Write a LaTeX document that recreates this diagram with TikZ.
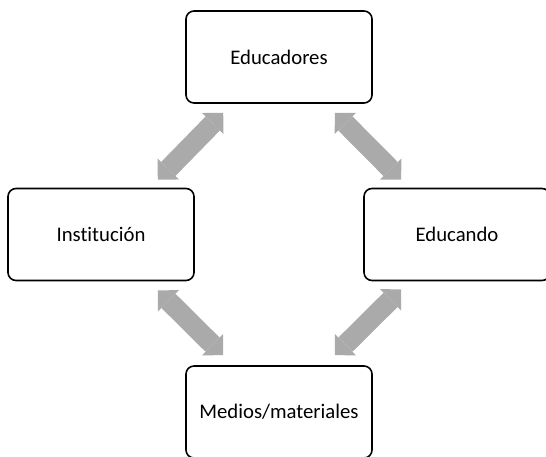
\documentclass[tikz,border=0pt]{standalone}
\usepackage{fontspec}
\setmainfont{Carlito}[Ligatures=NoCommon]
\usetikzlibrary{arrows.meta}
\definecolor{arrowgray}{RGB}{170,170,170}

\begin{document}
\begin{tikzpicture}[thick,minimum width=3.72cm,minimum height=1.84cm,box node/.style={rectangle,draw=black,line width=0.9pt,rounded corners=0.16cm,font=\fontsize{11.8}{14}\selectfont}]
\tikzstyle{both arrow} = [draw,line width=0.4cm,arrowgray,{Triangle[width=0.6cm,length=0.3cm,line width=0pt]}-{Triangle[width=0.6cm,length=0.3cm,line width=0pt]}]

\useasboundingbox (0,0) rectangle (10.92,9.12);

\node[box node] (educadores) at (5.58,7.98) {Educadores};
\node[box node] (institucion) at (2.02,4.43) {Institución};
\node[box node] (educando) at (9.14,4.43) {Educando};
\node[box node] (medios) at (5.58,0.88) {Medios/materiales};

% Arrows
\draw[both arrow] ([xshift=0.76cm,yshift=-0.18cm]educadores.south west) -- ([xshift=-0.74cm,yshift=0.16cm]institucion.north east);
\draw[both arrow] ([xshift=-0.76cm,yshift=-0.18cm]educadores.south east) -- ([xshift=0.76cm,yshift=0.16cm]educando.north west);
\draw[both arrow] ([xshift=-0.74cm,yshift=-0.18cm]institucion.south east) -- ([xshift=0.76cm,yshift=0.2cm]medios.north west);
\draw[both arrow] ([xshift=0.76cm,yshift=-0.16cm]educando.south west) -- ([xshift=-0.76cm,yshift=0.2cm]medios.north east);

\end{tikzpicture}
\end{document}
